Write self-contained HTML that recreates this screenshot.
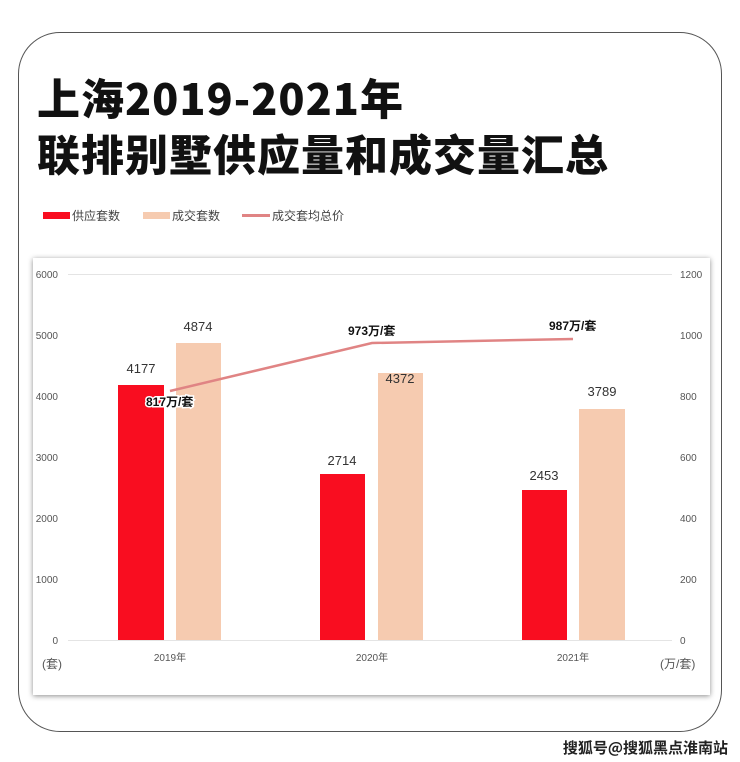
<!DOCTYPE html><html><head><meta charset="utf-8"><style>
body{margin:0;width:740px;height:762px;background:#fff;overflow:hidden;font-family:"Liberation Sans","Noto Sans CJK SC",sans-serif;position:relative}
.card{position:absolute;left:18px;top:32px;width:704px;height:700px;border:1.5px solid #555;border-radius:42px;box-sizing:border-box}
h1{position:absolute;left:37px;margin:0;font-size:43px;line-height:50px;font-weight:900;color:#111;font-family:"Noto Sans CJK SC",sans-serif;letter-spacing:1px;white-space:nowrap}
.box{position:absolute;left:33px;top:258px;width:677px;height:437px;background:#fff;box-shadow:0 1px 5px rgba(0,0,0,.45)}
.wm{position:absolute;right:12px;top:737px;font-size:15px;font-weight:bold;color:#222;font-family:"Noto Sans CJK SC",sans-serif}
</style></head><body>
<div class="card"></div>
<h1 style="top:72px">上海2019-2021年</h1>
<h1 style="top:128px">联排别墅供应量和成交量汇总</h1>
<svg width="740" height="762" style="position:absolute;left:0;top:0" font-family="Liberation Sans,Noto Sans CJK SC,sans-serif">
<rect x="43" y="212" width="27" height="7" fill="#f90d20"/><text x="72" y="220" font-size="12" fill="#444">供应套数</text>
<rect x="143" y="212" width="27" height="7" fill="#f6cbb0"/><text x="172" y="220" font-size="12" fill="#444">成交套数</text>
<rect x="242" y="214" width="28" height="3" fill="#e08484"/><text x="272" y="220" font-size="12" fill="#444">成交套均总价</text>
</svg>
<div class="box"></div>
<svg width="740" height="762" style="position:absolute;left:0;top:0" font-family="Liberation Sans,Noto Sans CJK SC,sans-serif" font-size="10" fill="#555">
<g stroke="#e4e4e4" stroke-width="1">
<line x1="68" x2="672" y1="274.5" y2="274.5"/><line x1="68" x2="672" y1="640.5" y2="640.5"/>
</g>
<g text-anchor="end"><text x="58" y="278">6000</text><text x="58" y="339">5000</text><text x="58" y="400">4000</text><text x="58" y="461">3000</text><text x="58" y="522">2000</text><text x="58" y="583">1000</text><text x="58" y="644">0</text></g>
<g><text x="680" y="278">1200</text><text x="680" y="339">1000</text><text x="680" y="400">800</text><text x="680" y="461">600</text><text x="680" y="522">400</text><text x="680" y="583">200</text><text x="680" y="644">0</text></g>
<rect x="118" y="385" width="46" height="255" fill="#f90d20"/><rect x="176" y="343" width="45" height="297" fill="#f6cbb0"/>
<rect x="320" y="474" width="45" height="166" fill="#f90d20"/><rect x="378" y="373" width="45" height="267" fill="#f6cbb0"/>
<rect x="522" y="490" width="45" height="150" fill="#f90d20"/><rect x="579" y="409" width="46" height="231" fill="#f6cbb0"/>
<g font-size="13" fill="#333" text-anchor="middle"><text x="141" y="373">4177</text><text x="198" y="331">4874</text><text x="342" y="465">2714</text><text x="400" y="383">4372</text><text x="544" y="480">2453</text><text x="602" y="396">3789</text></g>
<polyline points="170,391 372,343 573,339" fill="none" stroke="#e08484" stroke-width="2.5"/>
<g font-size="12" font-weight="bold" fill="#111" stroke="#fff" stroke-width="3" paint-order="stroke"><text x="146" y="406">817万/套</text><text x="348" y="335">973万/套</text><text x="549" y="330">987万/套</text></g>
<g text-anchor="middle" font-size="10"><text x="170" y="661">2019年</text><text x="372" y="661">2020年</text><text x="573" y="661">2021年</text></g>
<text x="42" y="668" font-size="12">(套)</text><text x="660" y="668" font-size="12">(万/套)</text>
</svg>
<div class="wm">搜狐号@搜狐黑点淮南站</div>
</body></html>
